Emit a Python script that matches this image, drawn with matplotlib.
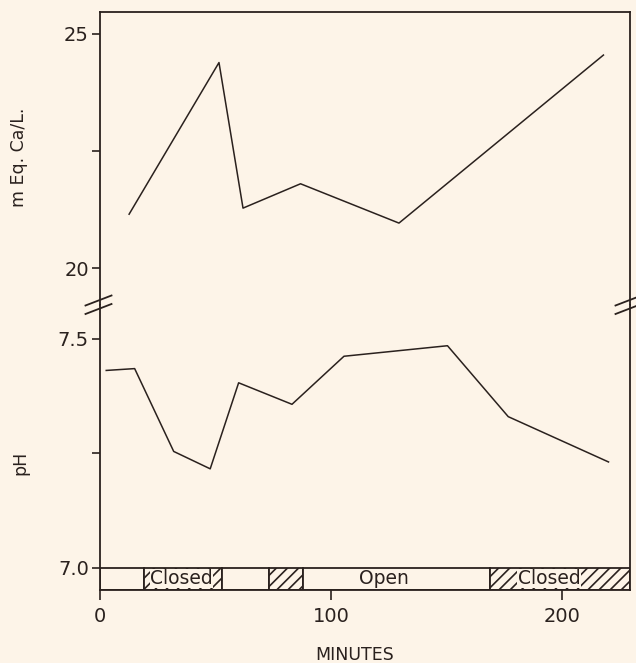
import matplotlib
matplotlib.use('Agg')
import matplotlib.pyplot as plt

# Ca concentration (upper panel)
ca_minutes = [12.6, 51.5, 61.9, 86.8, 129.4, 217.9]
ca_values = [21.15, 24.39, 21.28, 21.80, 20.96, 24.55]

# pH (lower panel)
ph_minutes = [2.7, 15.0, 31.9, 47.7, 60.0, 83.1, 105.6, 150.4, 176.7, 220.1]
ph_values = [7.431, 7.435, 7.254, 7.216, 7.404, 7.357, 7.462, 7.485, 7.330, 7.231]

# valve state bar along the bottom
segment_edges = [0, 19.2, 52.7, 73.2, 88.0, 168.8, 229.4]
segment_hatched = [False, True, False, True, False, True]
state_labels = ['Closed', 'Open', 'Closed']
state_label_x = [35.3, 123.0, 194.4]

bg = '#fdf4e8'
ink = '#2a211e'

plt.rcParams['hatch.color'] = ink
plt.rcParams['hatch.linewidth'] = 1.2
plt.rcParams['font.family'] = 'DejaVu Sans'

W, H = 636, 663
fig = plt.figure(figsize=(W / 100, H / 100), dpi=100, facecolor=bg)

def px(x0, y_top, x1, y_bot):
    # pixel box -> figure rect
    return [x0 / W, 1 - y_bot / H, (x1 - x0) / W, (y_bot - y_top) / H]

ax_ca = fig.add_axes(px(100, 12, 630, 305), facecolor=bg)
ax_ph = fig.add_axes(px(100, 305, 630, 590), facecolor=bg)

xlim = (0, 229.4)

# upper panel
ax_ca.plot(ca_minutes, ca_values, color=ink, lw=1.1)
ax_ca.set_xlim(*xlim)
ax_ca.set_ylim(19.21, 25.47)
ax_ca.set_yticks([20, 22.5, 25])
ax_ca.set_yticklabels(['20', '', '25'])
ax_ca.set_xticks([])
ax_ca.spines['bottom'].set_visible(False)

# lower panel
ph_bottom = 6.9512
ax_ph.plot(ph_minutes, ph_values, color=ink, lw=1.1)
for i in range(len(segment_hatched)):
    left = segment_edges[i]
    width = segment_edges[i + 1] - left
    ax_ph.bar(left, 7.0 - ph_bottom, width=width, bottom=ph_bottom, align='edge',
              facecolor=bg, edgecolor=ink, lw=1.3,
              hatch='///' if segment_hatched[i] else None, zorder=2)
for lab, x in zip(state_labels, state_label_x):
    ax_ph.text(x, (7.0 + ph_bottom) / 2 + 0.001, lab, ha='center', va='center',
               fontsize=13.5, color=ink, zorder=3,
               bbox=dict(facecolor=bg, edgecolor='none', pad=0.3))
ax_ph.set_xlim(*xlim)
ax_ph.set_ylim(ph_bottom, 7.574)
ax_ph.set_yticks([7.0, 7.25, 7.5])
ax_ph.set_yticklabels(['7.0', '', '7.5'])
ax_ph.set_xticks([0, 100, 200])
ax_ph.set_xticklabels(['0', '100', '200'])
ax_ph.spines['top'].set_visible(False)

for ax in (ax_ca, ax_ph):
    for s in ax.spines.values():
        s.set_color(ink)
        s.set_linewidth(1.3)
    ax.tick_params(axis='y', direction='out', length=6, width=1.2, color=ink,
                   labelsize=14, labelcolor=ink, pad=2)
    ax.tick_params(axis='x', direction='out', length=7.5, width=1.2, color=ink,
                   labelsize=14, labelcolor=ink, pad=5)

# axis break marks on both spines
for xc in (98.5, 628.5):
    for yc in (300.5, 309.0):
        fig.add_artist(plt.Line2D([(xc - 13) / W, (xc + 13) / W],
                                  [1 - (yc + 5) / H, 1 - (yc - 5) / H],
                                  color=ink, lw=1.3))

fig.text(19 / W, 1 - 157 / H, 'm Eq. Ca/L.', rotation=90, ha='center', va='center',
         fontsize=12.5, color=ink)
fig.text(20 / W, 1 - 463 / H, 'pH', rotation=90, ha='center', va='center',
         fontsize=12.5, color=ink)
fig.text(355 / W, 1 - 655 / H, 'MINUTES', ha='center', va='center',
         fontsize=12.5, color=ink)

fig.savefig('out.png', dpi=100, facecolor=bg)
